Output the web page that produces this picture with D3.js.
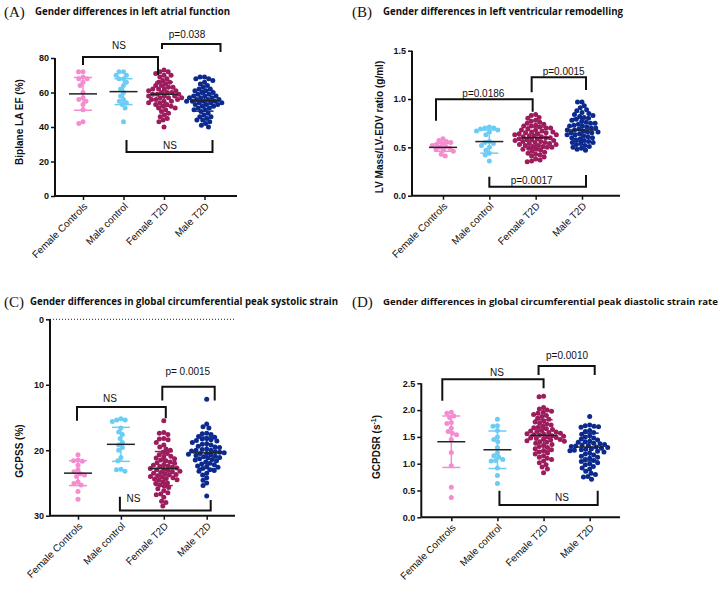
<!DOCTYPE html>
<html><head><meta charset="utf-8">
<script src="https://cdn.jsdelivr.net/npm/d3@7/dist/d3.min.js"></script>
<style>body{margin:0;background:#fff}svg{display:block}</style>
</head><body>
<svg id="chart" width="724" height="590"></svg>
<script>
// ---------- DATA ----------
const categories = ["Female Controls", "Male control", "Female T2D", "Male T2D"];
const groupColors = ["#f48ccf", "#6ccdf4", "#9c1c5c", "#0c2a8e"];

// (A) Biplane LA EF (%)
const aFemaleControls = [72,72,69,68,68,66,64,60,57,56,55,53,50,43,42];
const aMaleControl = [72,72,70,70,68,68,66,64,62,60,58,56,55,54,53,51,43];
const aFemaleT2D = [73,72,72,71,70,70,69,68,67,66,66,65,64,64,63,63,62,62,62,61,61,60,60,60,59,59,59,58,58,58,57,57,57,56,56,56,55,55,54,54,53,53,52,52,51,51,50,49,48,47,46,45,44,43,40];
const aMaleT2D = [69,69,68,68,67,66,65,64,63,62,62,61,61,60,60,59,59,58,58,58,57,57,57,56,56,56,55,55,55,55,54,54,54,53,53,53,52,52,51,51,50,50,49,48,47,46,46,45,44,44,43,42,41,40];
const aMeans = [59.2, 60.5, 59, 55.2];
const aSD = [9.5, 7.5, 7, 6];
const aTicks = [0, 20, 40, 60, 80];

// (B) LV Mass / LV-EDV ratio (g/ml)
const bFemaleControls = [0.59,0.57,0.56,0.55,0.54,0.53,0.52,0.51,0.50,0.49,0.48,0.47,0.46,0.43,0.41];
const bMaleControl = [0.71,0.70,0.70,0.69,0.68,0.67,0.66,0.63,0.56,0.55,0.54,0.52,0.50,0.47,0.44,0.42,0.36];
const bFemaleT2D = [0.84,0.83,0.81,0.80,0.78,0.77,0.76,0.75,0.74,0.73,0.72,0.72,0.71,0.70,0.70,0.69,0.68,0.68,0.67,0.66,0.66,0.65,0.65,0.64,0.64,0.63,0.63,0.62,0.62,0.61,0.61,0.60,0.60,0.59,0.59,0.58,0.58,0.57,0.57,0.56,0.56,0.55,0.55,0.54,0.54,0.53,0.53,0.52,0.52,0.51,0.51,0.50,0.50,0.49,0.48,0.48,0.47,0.46,0.45,0.44,0.43,0.42,0.41,0.40,0.38,0.37,0.36,0.35];
const bMaleT2D = [0.97,0.97,0.93,0.91,0.89,0.88,0.86,0.85,0.84,0.83,0.82,0.81,0.80,0.79,0.78,0.77,0.76,0.75,0.75,0.74,0.73,0.72,0.72,0.71,0.70,0.70,0.69,0.68,0.68,0.67,0.66,0.66,0.65,0.65,0.64,0.63,0.63,0.62,0.61,0.60,0.60,0.59,0.58,0.57,0.56,0.55,0.55,0.54,0.53,0.52,0.51,0.50,0.49,0.48,0.47];
const bMeans = [0.50, 0.56, 0.60, 0.68];
const bSD = [0.04, 0.12, 0.11, 0.12];
const bTicks = [0, 0.5, 1.0, 1.5];

// (C) GCPSS (%)
const cFemaleControls = [20.7,21.5,21.6,21.7,22.3,23.0,23.3,23.6,23.8,24.0,24.8,25.1,25.3,26.3,27.5];
const cMaleControl = [15.2,15.4,15.4,15.6,16.6,17.2,17.6,18.2,18.8,19.2,19.6,20.0,21.1,21.6,22.9,23.0,23.2];
const cFemaleT2D = [15.5,17.3,17.4,17.6,18.2,18.3,18.4,18.8,19.2,19.5,19.8,20.0,20.3,20.5,20.7,20.9,21.0,21.2,21.3,21.5,21.6,21.8,21.9,22.0,22.2,22.3,22.4,22.5,22.6,22.7,22.8,22.9,23.0,23.1,23.2,23.3,23.4,23.5,23.6,23.7,23.8,23.9,24.0,24.1,24.2,24.3,24.4,24.5,24.6,24.8,25.0,25.1,25.3,25.5,25.7,25.9,26.2,26.5,26.7,26.8,27.2,27.8,28.0,28.5];
const cMaleT2D = [12.2,16.0,16.4,16.6,17.4,17.5,17.6,17.9,18.0,18.2,18.3,18.4,18.5,18.6,18.8,19.0,19.1,19.2,19.4,19.5,19.6,19.8,19.9,20.0,20.0,20.1,20.2,20.3,20.4,20.5,20.5,20.6,20.7,20.8,20.9,21.0,21.1,21.2,21.3,21.4,21.5,21.6,21.8,22.0,22.1,22.2,22.4,22.5,22.6,22.8,23.0,23.1,23.2,23.5,23.8,24.2,24.6,25.0,25.4,27.0];
const cMeans = [23.5, 19.1, 22.8, 20.4];
const cSD = [1.9, 2.6, 2.6, 2.4];
const cTicks = [0, 10, 20, 30];

// (D) GCPDSR (s^-1)
const dFemaleControls = [1.96,1.94,1.89,1.86,1.77,1.75,1.66,1.60,1.57,1.54,1.45,1.21,0.96,0.56,0.37];
const dMaleControl = [1.83,1.71,1.70,1.62,1.50,1.45,1.41,1.30,1.20,1.15,1.12,1.08,1.06,1.05,0.92,0.78,0.63];
const dFemaleT2D = [2.26,2.25,2.05,2.02,2.00,1.98,1.96,1.94,1.92,1.90,1.88,1.85,1.83,1.80,1.78,1.76,1.74,1.72,1.70,1.68,1.67,1.65,1.64,1.62,1.61,1.60,1.59,1.58,1.57,1.56,1.55,1.54,1.53,1.52,1.51,1.50,1.49,1.48,1.47,1.46,1.45,1.44,1.43,1.42,1.41,1.40,1.38,1.36,1.34,1.32,1.30,1.28,1.26,1.24,1.22,1.20,1.18,1.15,1.12,1.10,1.08,1.05,1.02,0.98,0.94,0.90,0.83];
const dMaleT2D = [1.88,1.72,1.71,1.70,1.69,1.68,1.62,1.60,1.58,1.55,1.52,1.50,1.48,1.46,1.44,1.42,1.41,1.40,1.38,1.37,1.36,1.35,1.34,1.33,1.32,1.31,1.30,1.29,1.28,1.27,1.26,1.25,1.24,1.23,1.22,1.20,1.18,1.16,1.14,1.12,1.10,1.08,1.06,1.04,1.02,1.00,0.98,0.95,0.92,0.90,0.86,0.82,0.80,0.76,0.75,0.71];
const dMeans = [1.41, 1.26, 1.53, 1.31];
const dSD = [0.48, 0.35, 0.29, 0.26];
const dTicks = [0, 0.5, 1.0, 1.5, 2.0, 2.5];

// brackets: [cat1, dx1, cat2, dx2, lineValue, leg1Value, leg2Value, label, labelCat, labelDx, labelValue]
const aBrackets = [
  [0, 0, 2, -6, 80.6, 75.9, 70.1, "NS", 0, 36, 87.5],
  [2, -2, 3, 16, 88.1, 85.2, 83.5, "p=0.038", 2, 23, 93.9],
  [1, 3, 3, 8, 25.5, 32.5, 32.5, "NS", 2, 6, 29]
];
const bBrackets = [
  [0, -7, 2, -3, 0.997, 0.776, 0.869, "p=0.0186", 1, -6, 1.062],
  [2, -4, 3, 4, 1.225, 1.070, 1.093, "p=0.0015", 2, 28, 1.283],
  [1, 0, 3, 4, 0.093, 0.197, 0.214, "p=0.0017", 2, -4, 0.162]
];
const cBrackets = [
  [2, -1.5, 3, 8, 10.3, 12.4, 12.4, "p= 0.0015", 2, 24, 8.0],
  [0, -1, 2, 2, 13.4, 15.5, 15.1, "NS", 0, 32, 12.1],
  [1, -1, 3, 4, 29.2, 27.1, 27.6, "NS", 1, 12.5, 27.3]
];
const dBrackets = [
  [0, -9, 2, 0, 2.575, 2.175, 2.407, "NS", 1, -0.5, 2.705],
  [2, -5, 3, 5, 2.823, 2.655, 2.655, "p=0.0010", 2, 23.5, 3.015],
  [1, 2, 3, 8, 0.229, 0.496, 0.496, "NS", 2, 18.5, 0.373]
];

// ---------- LAYOUT ----------
const panels = [
  {letter: "(A)", letterX: 4, title: "Gender differences in left atrial function", titleX: 35, titleW: 195, titleY: 15, titleFs: 10,
   axX: 55, axEnd: 237, catRange: [83, 204.5], domain: [0, 80], range: [196, 58], ticks: aTicks, fmt: d3.format("d"),
   ylabel: ["Biplane LA EF (%)"], ylabelX: 23, ylabelY: 122, groups: [aFemaleControls, aMaleControl, aFemaleT2D, aMaleT2D],
   means: aMeans, sd: aSD, brackets: aBrackets, xAxisAt: 0},
  {letter: "(B)", letterX: 352, title: "Gender differences in left ventricular remodelling", titleX: 383, titleW: 240, titleY: 15, titleFs: 10,
   axX: 412, axEnd: 620, catRange: [443, 582], domain: [0, 1.5], range: [195.7, 50.7], ticks: bTicks, fmt: d3.format(".1f"),
   ylabel: ["LV Mass/LV-EDV ratio (g/ml)"], ylabelX: 383, ylabelY: 127, groups: [bFemaleControls, bMaleControl, bFemaleT2D, bMaleT2D],
   means: bMeans, sd: bSD, brackets: bBrackets, xAxisAt: 0},
  {letter: "(C)", letterX: 4, title: "Gender differences in global circumferential peak systolic strain", titleX: 30, titleW: 308, titleY: 305, titleFs: 10,
   axX: 50, axEnd: 235, catRange: [78, 206.7], domain: [0, 30], range: [319.3, 515.7], ticks: cTicks, fmt: d3.format("d"),
   ylabel: ["GCPSS (%)"], ylabelX: 23, ylabelY: 451, groups: [cFemaleControls, cMaleControl, cFemaleT2D, cMaleT2D],
   means: cMeans, sd: cSD, brackets: cBrackets, xAxisAt: 30, dotted: 0},
  {letter: "(D)", letterX: 352, title: "Gender differences in global circumferential peak diastolic strain rate", titleX: 383, titleW: 335, titleY: 305, titleFs: 9,
   axX: 421.3, axEnd: 620, catRange: [451.3, 589.7], domain: [0, 2.5], range: [517.3, 383.3], ticks: dTicks, fmt: d3.format(".1f"),
   ylabel: ["GCPDSR (s", "-1", ")"], ylabelX: 380, ylabelY: 447, groups: [dFemaleControls, dMaleControl, dFemaleT2D, dMaleT2D],
   means: dMeans, sd: dSD, brackets: dBrackets, xAxisAt: 0}
];

const svg = d3.select("#chart");
const SANS = "Liberation Sans, Arial, Helvetica, sans-serif";
const R = 2.5;
const GAP = 0.9; // GraphPad-style packing: points may overlap slightly

function swarm(vals, y, r) {
  const d = 2 * r * GAP;
  const pts = vals.map(v => ({v, y: y(v)})).sort((a, b) => a.y - b.y);
  const placed = [];
  for (const p of pts) {
    const near = placed.filter(q => Math.abs(q.y - p.y) < d);
    const cands = [0];
    for (const q of near) {
      const dx = Math.sqrt(d * d - (q.y - p.y) ** 2);
      cands.push(q.x + dx, q.x - dx);
    }
    cands.sort((a, b) => Math.abs(a) - Math.abs(b) || a - b);
    let best = 0;
    for (const c of cands) {
      if (near.every(q => (q.x - c) ** 2 + (q.y - p.y) ** 2 >= d * d - 0.01)) { best = c; break; }
    }
    p.x = best;
    placed.push(p);
  }
  return placed;
}

panels.forEach(P => {
  const g = svg.append("g");
  const y = d3.scaleLinear().domain(P.domain).range(P.range);
  const x = d3.scalePoint().domain(categories).range(P.catRange);

  // header
  g.append("text").attr("x", P.letterX).attr("y", P.titleY + 2).text(P.letter)
    .attr("font-family", "Liberation Serif, Times New Roman, serif").attr("font-size", 15).attr("fill", "#111");
  g.append("text").attr("x", P.titleX).attr("y", P.titleY).text(P.title)
    .attr("font-family", "Open Sans, sans-serif").attr("font-weight", "bold").attr("font-size", P.titleFs)
    .attr("textLength", P.titleW).attr("lengthAdjust", "spacingAndGlyphs").attr("fill", "#111");

  // dotted reference line
  if (P.dotted !== undefined) {
    g.append("line").attr("x1", P.axX).attr("x2", P.axEnd).attr("y1", y(P.dotted)).attr("y2", y(P.dotted))
      .attr("stroke", "#222").attr("stroke-width", 1).attr("stroke-dasharray", "1,2");
  }

  // y axis
  const yAxis = d3.axisLeft(y).tickValues(P.ticks).tickFormat(P.fmt).tickSize(4).tickPadding(2);
  const ya = g.append("g").attr("transform", `translate(${P.axX},0)`).call(yAxis);
  ya.select(".domain").attr("stroke", "#111").attr("stroke-width", 2).attr("d", `M0,${y(P.domain[0])}V${y(P.domain[1])}`);
  ya.selectAll(".tick line").attr("stroke", "#111").attr("stroke-width", 1.5);
  ya.selectAll(".tick text").attr("font-family", SANS).attr("font-weight", "bold").attr("font-size", 9).attr("fill", "#111");

  // x axis
  const xa = g.append("g").attr("transform", `translate(0,${y(P.xAxisAt)})`)
    .call(d3.axisBottom(x).tickSize(4).tickFormat(""));
  xa.select(".domain").attr("stroke", "#111").attr("stroke-width", 2).attr("d", `M${P.axX},0H${P.axEnd}`);
  xa.selectAll(".tick line").attr("stroke", "#111").attr("stroke-width", 1.5);
  categories.forEach(c => {
    g.append("text").text(c)
      .attr("transform", `translate(${x(c) + 5},${y(P.xAxisAt) + 11}) rotate(-45)`)
      .attr("text-anchor", "end").attr("font-family", SANS).attr("font-size", 10).attr("fill", "#111");
  });

  // y label
  const yl = g.append("text").attr("transform", `translate(${P.ylabelX},${P.ylabelY}) rotate(-90)`)
    .attr("text-anchor", "middle").attr("font-family", SANS).attr("font-weight", "bold").attr("font-size", 10).attr("fill", "#111");
  yl.append("tspan").text(P.ylabel[0]);
  if (P.ylabel.length > 1) {
    yl.append("tspan").text(P.ylabel[1]).attr("font-size", 7).attr("dy", -4);
    yl.append("tspan").text(P.ylabel[2]).attr("dy", 4);
  }

  // dots
  P.groups.forEach((vals, i) => {
    const cx = x(categories[i]);
    const pts = swarm(vals, y, R);
    g.append("g").selectAll("circle").data(pts).join("circle")
      .attr("cx", d => cx + d.x).attr("cy", d => d.y).attr("r", R).attr("fill", groupColors[i]);
    // SD error bar
    const lo = P.means[i] - P.sd[i], hi = P.means[i] + P.sd[i];
    const eb = g.append("g").attr("stroke", groupColors[i]).attr("stroke-width", 1.5);
    eb.append("line").attr("x1", cx).attr("x2", cx).attr("y1", y(lo)).attr("y2", y(hi));
    eb.append("line").attr("x1", cx - 9).attr("x2", cx + 9).attr("y1", y(lo)).attr("y2", y(lo));
    eb.append("line").attr("x1", cx - 9).attr("x2", cx + 9).attr("y1", y(hi)).attr("y2", y(hi));
    g.append("line").attr("x1", cx - 14).attr("x2", cx + 14).attr("y1", y(P.means[i])).attr("y2", y(P.means[i]))
      .attr("stroke", "#222").attr("stroke-width", 1.5);
  });

  // brackets
  P.brackets.forEach(b => {
    const [c1, dx1, c2, dx2, lv, l1, l2, label, lc, ldx, lval] = b;
    const x1 = x(categories[c1]) + dx1, x2 = x(categories[c2]) + dx2;
    g.append("path").attr("d", `M${x1},${y(l1)}V${y(lv)}H${x2}V${y(l2)}`)
      .attr("fill", "none").attr("stroke", "#111").attr("stroke-width", 2);
    g.append("text").attr("x", x(categories[lc]) + ldx).attr("y", y(lval)).attr("dy", "0.35em")
      .attr("text-anchor", "middle").attr("font-family", SANS).attr("font-size", 10).attr("fill", "#111").text(label);
  });
});
</script>
</body></html>
